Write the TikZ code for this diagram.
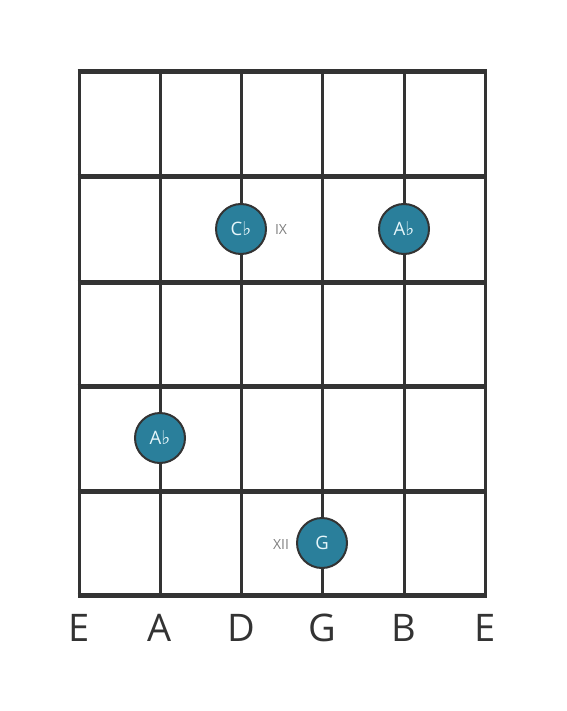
\documentclass[tikz,border=0pt]{standalone}
\usepackage{fontspec}
\setmainfont{Open Sans}
\newfontfamily\symfont{DejaVu Sans}
\definecolor{gridc}{HTML}{333333}
\definecolor{dotc}{HTML}{2A7F9B}
\definecolor{dottext}{HTML}{E6F6FA}
\definecolor{romc}{HTML}{808080}
\newcommand{\flt}{{\symfont\fontsize{19pt}{19pt}\selectfont\raisebox{-0.5pt}{\char"266D}}}
\begin{document}
\begin{tikzpicture}[x=1pt,y=-1pt,
  fret/.style={draw=gridc,line width=5pt},
  strg/.style={draw=gridc,line width=3pt},
  dot/.style={circle,draw=gridc,line width=2pt,fill=dotc,minimum size=50pt,inner sep=0pt,text=dottext,font=\fontsize{18.5pt}{18.5pt}\selectfont},
  rom/.style={text=romc,font=\fontsize{14pt}{14pt}\selectfont,inner sep=0pt},
  slabel/.style={text=gridc,font=\fontsize{38pt}{38pt}\selectfont,inner sep=0pt}]
\useasboundingbox (0,0) rectangle (566,711);
\foreach \x [count=\i] in {79,160,241,322,404,485}{
  \draw[strg] (\x,72) -- (\x,595);
}
\foreach \y in {72,177,282,386,491,595}{
  \draw[fret] (77.5,\y) -- (486.5,\y);
}
\node[dot] (cb) at (241,229) {C\flt};
\node[dot] (ab1) at (404,229) {A\flt};
\node[dot] (ab2) at (160,438) {A\flt};
\node[dot] (g) at (322,543) {G};
\node[rom] (ix) at (281,230) {IX};
\node[rom] (xii) at (281,544) {XII};
\foreach \x/\n [count=\i] in {79/E,160/A,241/D,322/G,404/B,485/E}{
  \node[slabel] (s\i) at (\x,628) {\n};
}
\end{tikzpicture}
\end{document}
